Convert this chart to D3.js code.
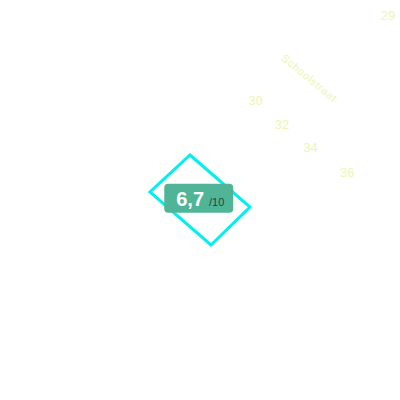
<!DOCTYPE html>
<html>
<head>
<meta charset="utf-8">
<script src="https://cdn.jsdelivr.net/npm/d3@7"></script>
<style>
  body { margin: 0; background: #fff; }
  text { font-family: "Liberation Sans", Arial, sans-serif; }
</style>
</head>
<body>
<div id="map"></div>
<script>
// 1: DATA (local map grid, metres)
const houseNumbers = ["29", "30", "32", "34", "36"];
const houseX = [194, 127.7, 141, 155.3, 173.6];
const houseY = [7.5, 50, 62, 73.5, 86];

const streetName = "Schoolstraat";
const streetX = [142, 167.5];   // start / end of the name label
const streetY = [28.5, 49.5];

// footprint of the selected building
const buildingX = [95, 125, 105.5, 75];
const buildingY = [77.5, 103.5, 122.5, 96];

const score = "6,7";
const scoreMax = "/10";

// 2: SCALES
const width = 400, height = 400;
const x = d3.scaleLinear().domain([0, 200]).range([0, width]);
const y = d3.scaleLinear().domain([0, 200]).range([0, height]);

const svg = d3.select("#map")
    .append("svg")
    .attr("width", width)
    .attr("height", height);

// 3: BUILDING OUTLINE
const corners = buildingX.map((bx, i) => [x(bx), y(buildingY[i])]);
svg.append("path")
    .attr("d", d3.line()(corners) + "Z")
    .style("fill", "none")
    .style("stroke", "#00f0f0")
    .style("stroke-width", 3);

// 4: HOUSE NUMBERS
svg.selectAll(".hn")
    .data(houseNumbers)
    .enter()
    .append("text")
    .attr("class", "hn")
    .attr("x", (d, i) => x(houseX[i]))
    .attr("y", (d, i) => y(houseY[i]))
    .attr("text-anchor", "middle")
    .attr("dominant-baseline", "central")
    .style("font-size", "13px")
    .style("fill", "#ebf6b6")
    .text(d => d);

// 5: STREET NAME (along the street)
const sx0 = x(streetX[0]), sy0 = y(streetY[0]);
const sx1 = x(streetX[1]), sy1 = y(streetY[1]);
const angle = Math.atan2(sy1 - sy0, sx1 - sx0) * 180 / Math.PI;
svg.append("text")
    .attr("transform", `translate(${(sx0 + sx1) / 2},${(sy0 + sy1) / 2}) rotate(${angle})`)
    .attr("text-anchor", "middle")
    .attr("dominant-baseline", "central")
    .style("font-size", "11px")
    .style("letter-spacing", "0.6px")
    .style("fill", "#ebf6b6")
    .text(streetName);

// 6: SCORE LABEL at building centre
const cx = d3.mean(corners, d => d[0]);
const cy = d3.mean(corners, d => d[1]);
const label = svg.append("g")
    .attr("transform", `translate(${cx - 2},${cy - 2})`);

label.append("rect")
    .attr("x", -34)
    .attr("y", -14)
    .attr("width", 69)
    .attr("height", 29)
    .attr("rx", 4)
    .style("fill", "#50b597");

const t = label.append("text")
    .attr("x", -22)
    .attr("y", 8);
t.append("tspan")
    .style("font-size", "20px")
    .style("font-weight", "bold")
    .style("fill", "#fff")
    .text(score);
t.append("tspan")
    .attr("dx", 5)
    .style("font-size", "11px")
    .style("fill", "#33403b")
    .text(scoreMax);
</script>
</body>
</html>
